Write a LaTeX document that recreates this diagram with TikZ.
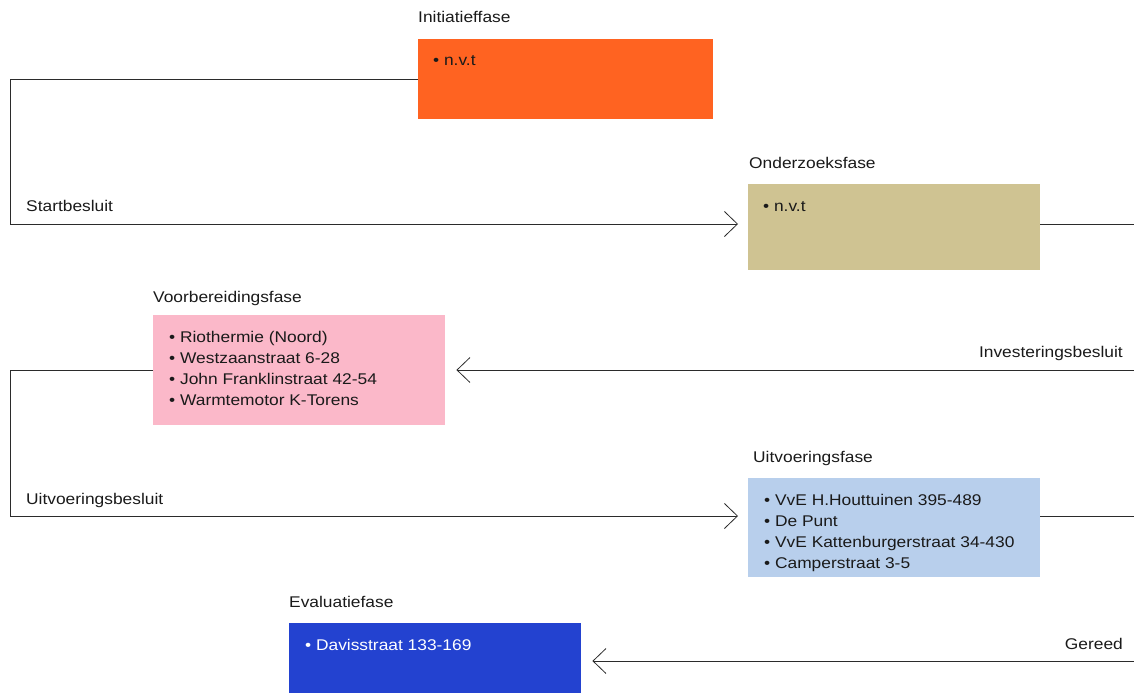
\documentclass[tikz,border=0pt]{standalone}
\usepackage{fontspec}
\setmainfont{Liberation Sans}[FakeStretch=1.12]
\usetikzlibrary{arrows.meta}
\definecolor{cOrange}{HTML}{FF6321}
\definecolor{cKhaki}{HTML}{CFC392}
\definecolor{cPink}{HTML}{FBB8C9}
\definecolor{cLight}{HTML}{B8CFEC}
\definecolor{cBlue}{HTML}{2342D0}
\definecolor{cLine}{HTML}{2B2B2B}
\definecolor{cText}{HTML}{1A1A1A}
\tikzset{
  box/.style={draw=none, rectangle, anchor=north west, inner sep=0pt},
  txt/.style={anchor=base west, inner sep=0pt, text=cText, font=\fontsize{15.5}{19}\selectfont},
  ttl/.style={txt},
  lblr/.style={anchor=base east, inner sep=0pt, text=cText, font=\fontsize{15.5}{19}\selectfont},
  conn/.style={draw=cLine, line width=0.85pt},
  arr/.style={conn, -{Straight Barb[length=13pt,width=25pt,line width=0.8pt]}}
}
\begin{document}
\begin{tikzpicture}[x=1pt,y=-1pt]
\useasboundingbox (0,0) rectangle (1134,693);
% boxes
\node[box, fill=cOrange, minimum width=295pt, minimum height=80pt] (ini) at (418,39) {};
\node[box, fill=cKhaki, minimum width=292pt, minimum height=86pt] (ond) at (748,184) {};
\node[box, fill=cPink, minimum width=292pt, minimum height=110pt] (voo) at (153,315) {};
\node[box, fill=cLight, minimum width=292pt, minimum height=99pt] (uit) at (748,478) {};
\node[box, fill=cBlue, minimum width=292pt, minimum height=70pt] (eva) at (289,623) {};
% titles
\node[ttl] (tini) at (418,23) {Initiatieffase};
\node[ttl] (tond) at (749,168) {Onderzoeksfase};
\node[ttl] (tvoo) at (153,302) {Voorbereidingsfase};
\node[ttl] (tuit) at (753,462) {Uitvoeringsfase};
\node[ttl] (teva) at (289,607) {Evaluatiefase};
% contents
\node[txt] (iniA) at (433,66) {• n.v.t};
\node[txt] (ondA) at (763,211) {• n.v.t};
\node[txt] (vooA) at (169,342) {• Riothermie (Noord)};
\node[txt] (vooB) at (169,363.2) {• Westzaanstraat 6-28};
\node[txt] (vooC) at (169,384.4) {• John Franklinstraat 42-54};
\node[txt] (vooD) at (169,405.6) {• Warmtemotor K-Torens};
\node[txt] (uitA) at (764,505) {• VvE H.Houttuinen 395-489};
\node[txt] (uitB) at (764,526) {• De Punt};
\node[txt] (uitC) at (764,547) {• VvE Kattenburgerstraat 34-430};
\node[txt] (uitD) at (764,568) {• Camperstraat 3-5};
\node[txt, text=white] (evaA) at (305,650) {• Davisstraat 133-169};
% connector labels
\node[txt] (lsb) at (26,211) {Startbesluit};
\node[lblr] (lib) at (1123,357) {Investeringsbesluit};
\node[txt] (lub) at (26,504) {Uitvoeringsbesluit};
\node[lblr] (lgr) at (1123,649) {Gereed};
% free ends
\coordinate (e1) at (1134,224);
\coordinate (s2) at (1134,370);
\coordinate (e3) at (1134,516);
\coordinate (s4) at (1134,661);
% connectors
\draw[arr] (ini.west |- 0,79) -- (10,79) -- (10,224) -- ([xshift=-10pt]ond.west |- 0,224);
\draw[conn] (ond.east |- 0,224) -- (e1);
\draw[arr] (s2) -- ([xshift=11pt]voo.east |- 0,370);
\draw[arr] (voo.west |- 0,370) -- (10,370) -- (10,516) -- ([xshift=-10pt]uit.west |- 0,516);
\draw[conn] (uit.east |- 0,516) -- (e3);
\draw[arr] (s4) -- ([xshift=11pt]eva.east |- 0,661);
\end{tikzpicture}
\end{document}
